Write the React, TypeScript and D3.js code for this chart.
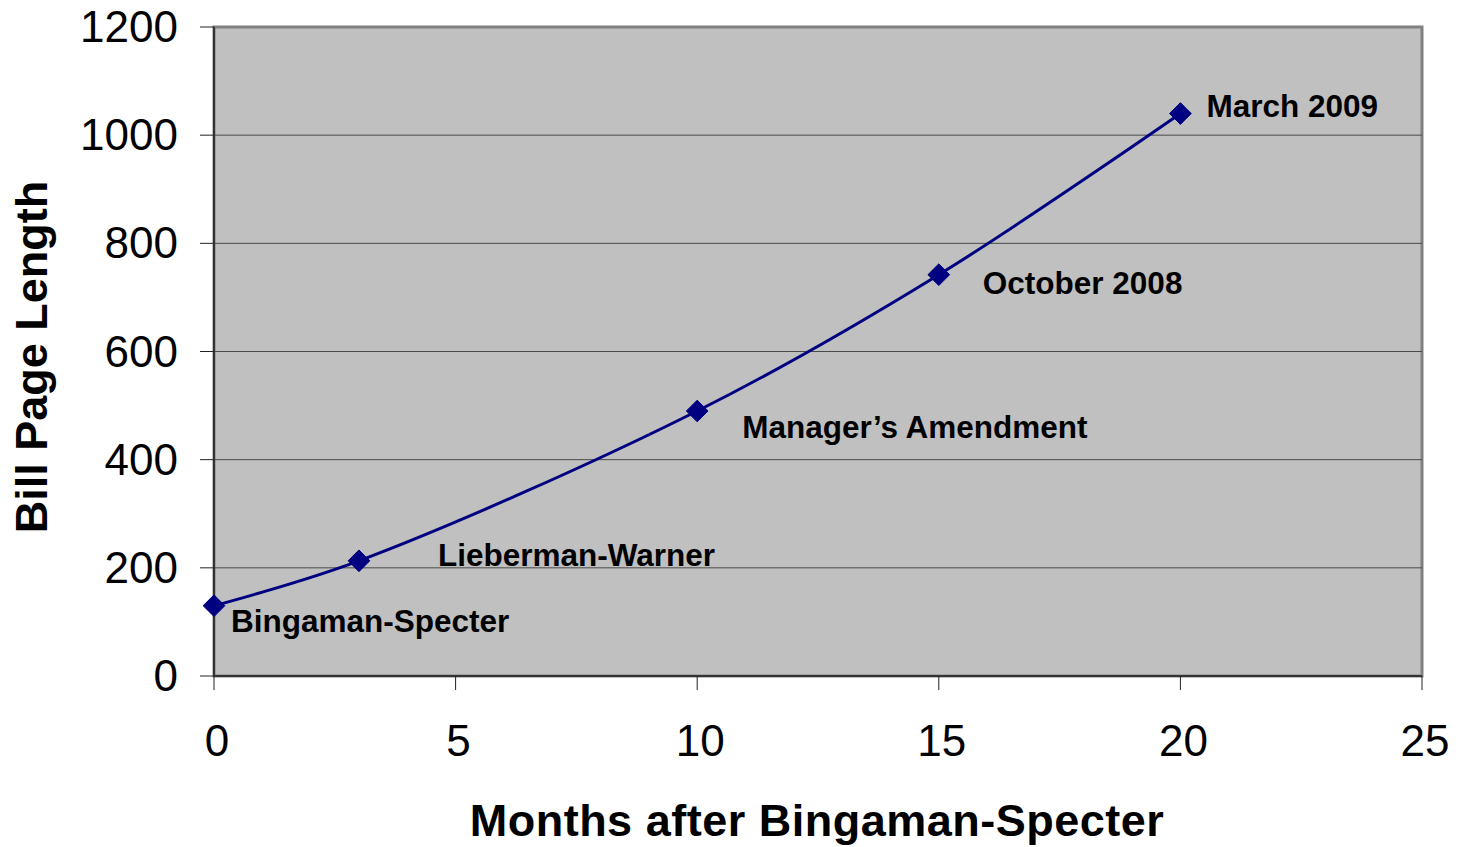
import React, { useRef, useEffect } from "react";
import * as d3 from "d3";

const months = [0, 3, 10, 15, 20];
const pages = [130, 213, 490, 742, 1040];
const billNames = [
  "Bingaman-Specter",
  "Lieberman-Warner",
  "Manager\u2019s Amendment",
  "October 2008",
  "March 2009",
];
const xTicks = [0, 5, 10, 15, 20, 25];
const yTicks = [0, 200, 400, 600, 800, 1000, 1200];

// label offsets from the marker, in px
const labelDx = [17, 79, 45, 44, 26];
const labelDy = [26, 5, 27, 19, 3];

const App = () => {
  const ref = useRef<SVGSVGElement>(null);

  useEffect(() => {
    const svg = d3.select(ref.current);
    svg.selectAll("*").remove();

    const margin = { left: 214, top: 27, right: 40, bottom: 171 };
    const W = 1462,
      H = 847;
    const width = W - margin.left - margin.right;
    const height = H - margin.top - margin.bottom;
    const font = "'Liberation Sans', Arial, sans-serif";

    const x = d3.scaleLinear().domain([0, 25]).range([0, width]);
    const y = d3.scaleLinear().domain([0, 1200]).range([height, 0]);

    const g = svg
      .append("g")
      .attr("transform", `translate(${margin.left},${margin.top})`);

    // plot background
    g.append("rect")
      .attr("width", width)
      .attr("height", height)
      .attr("fill", "#c0c0c0")
      .attr("stroke", "#808080")
      .attr("stroke-width", 3);

    // gridlines
    g.selectAll(".grid")
      .data(yTicks.filter((t) => t > 0 && t < 1200))
      .enter()
      .append("line")
      .attr("x1", 0)
      .attr("x2", width)
      .attr("y1", (d) => y(d))
      .attr("y2", (d) => y(d))
      .attr("stroke", "#4a4a4a")
      .attr("stroke-width", 1);

    // axes lines
    g.append("line")
      .attr("x1", 0)
      .attr("x2", 0)
      .attr("y1", 0)
      .attr("y2", height)
      .attr("stroke", "#333")
      .attr("stroke-width", 2);
    g.append("line")
      .attr("x1", 0)
      .attr("x2", width)
      .attr("y1", height)
      .attr("y2", height)
      .attr("stroke", "#333")
      .attr("stroke-width", 2);

    // y ticks
    g.selectAll(".ytick")
      .data(yTicks)
      .enter()
      .append("line")
      .attr("x1", -14)
      .attr("x2", 0)
      .attr("y1", (d) => y(d))
      .attr("y2", (d) => y(d))
      .attr("stroke", "#222")
      .attr("stroke-width", 1);
    g.selectAll(".ylab")
      .data(yTicks)
      .enter()
      .append("text")
      .attr("x", -36)
      .attr("y", (d) => y(d) + 15)
      .attr("text-anchor", "end")
      .style("font-family", font)
      .style("font-size", "44px")
      .text((d) => d);

    // x ticks
    g.selectAll(".xtick")
      .data(xTicks)
      .enter()
      .append("line")
      .attr("x1", (d) => x(d))
      .attr("x2", (d) => x(d))
      .attr("y1", height)
      .attr("y2", height + 14)
      .attr("stroke", "#222")
      .attr("stroke-width", 1);
    g.selectAll(".xlab")
      .data(xTicks)
      .enter()
      .append("text")
      .attr("x", (d) => x(d) + 3)
      .attr("y", height + 80)
      .attr("text-anchor", "middle")
      .style("font-family", font)
      .style("font-size", "44px")
      .text((d) => d);

    const pts = months.map((m, i) => ({ m, p: pages[i], name: billNames[i], i }));

    // line
    const line = d3
      .line<any>()
      .x((d) => x(d.m))
      .y((d) => y(d.p))
      .curve(d3.curveCatmullRom.alpha(0.5));
    g.append("path")
      .datum(pts)
      .attr("d", line)
      .attr("fill", "none")
      .attr("stroke", "#000080")
      .attr("stroke-width", 3);

    // markers
    g.selectAll(".marker")
      .data(pts)
      .enter()
      .append("path")
      .attr("d", d3.symbol().type(d3.symbolDiamond2).size(300))
      .attr("transform", (d) => `translate(${x(d.m)},${y(d.p)})`)
      .attr("fill", "#000080")
      .attr("stroke", "#000080")
      .attr("stroke-width", 1);

    // labels
    g.selectAll(".lbl")
      .data(pts)
      .enter()
      .append("text")
      .attr("x", (d) => x(d.m) + labelDx[d.i])
      .attr("y", (d) => y(d.p) + labelDy[d.i])
      .style("font-family", font)
      .style("font-size", "31.5px")
      .style("font-weight", "bold")
      .text((d) => d.name);

    // axis titles
    svg
      .append("text")
      .attr("x", 817)
      .attr("y", 836)
      .attr("text-anchor", "middle")
      .style("font-family", font)
      .style("font-size", "45px")
      .style("font-weight", "bold")
      .style("letter-spacing", "0.5px")
      .text("Months after Bingaman-Specter");

    svg
      .append("text")
      .attr("transform", "translate(47,357) rotate(-90)")
      .attr("text-anchor", "middle")
      .style("font-family", font)
      .style("font-size", "45px")
      .style("font-weight", "bold")
      .text("Bill Page Length");
  }, []);

  return (
    <svg
      ref={ref}
      width={1462}
      height={847}
      style={{ position: "absolute", left: 0, top: 0, background: "#fff" }}
    />
  );
};

export default App;
